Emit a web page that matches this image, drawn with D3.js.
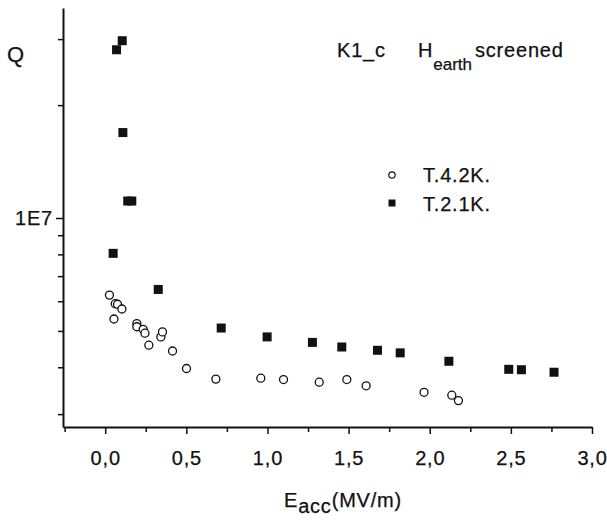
<!DOCTYPE html>
<html>
<head>
<meta charset="utf-8">
<script src="https://cdn.jsdelivr.net/npm/d3@7"></script>
<style>
  body { margin: 0; background: #fff; }
  svg text { font-family: "Liberation Sans", Arial, sans-serif; fill: #111; stroke: #111; stroke-width: 0.25px; }
  .axis path, .axis line { stroke: #111; }
</style>
</head>
<body>
<div id="chart"></div>
<script>
//////////////// DATA ////////////////

// T = 4.2 K (open circles)
var e42 = [0.026, 0.062, 0.076, 0.103, 0.054, 0.195, 0.195, 0.234, 0.245, 0.269, 0.343, 0.353, 0.415, 0.501, 0.682, 0.959, 1.099, 1.319, 1.489, 1.608, 1.965, 2.136, 2.177];
var q42 = [6.23e6, 5.91e6, 5.89e6, 5.72e6, 5.38e6, 5.23e6, 5.13e6, 5.05e6, 4.93e6, 4.58e6, 4.82e6, 4.97e6, 4.42e6, 3.97e6, 3.72e6, 3.74e6, 3.71e6, 3.65e6, 3.71e6, 3.57e6, 3.43e6, 3.37e6, 3.26e6];

// T = 2.1 K (filled squares)
var e21 = [0.070, 0.105, 0.109, 0.139, 0.164, 0.049, 0.327, 0.715, 0.998, 1.277, 1.458, 1.678, 1.818, 2.118, 2.487, 2.565, 2.766];
var q21 = [2.81e7, 2.97e7, 1.69e7, 1.11e7, 1.11e7, 8.05e6, 6.45e6, 5.09e6, 4.82e6, 4.66e6, 4.53e6, 4.44e6, 4.37e6, 4.15e6, 3.95e6, 3.94e6, 3.88e6];

var xMajorTicks = [0, 0.5, 1.0, 1.5, 2.0, 2.5, 3.0];
var xMinorTicks = [-0.25, 0.25, 0.75, 1.25, 1.75, 2.25, 2.75];
var yMajorTicks = [1e7];
var yMinorTicks = [3e6, 4e6, 5e6, 6e6, 7e6, 8e6, 9e6, 2e7, 3e7];
var legendLabels = ["T.4.2K.", "T.2.1K."];

//////////////// SETUP ////////////////

// plot box edges (note: "top" is reserved on window, so use plotTop)
var w = 607, h = 520,
    plotLeft = 63, plotRight = 592, plotTop = 8, plotBottom = 427,
    fontSize = "20px", spacing = "0.8px";

var svg = d3.select("#chart").append("svg")
    .attr("width", w)
    .attr("height", h);

var xScale = d3.scaleLinear()
    .domain([-0.26, 3.0])
    .range([plotLeft, plotRight]);

var yScale = d3.scaleLog()
    .domain([2.772e6, 3.631e7])
    .range([plotBottom, plotTop]);

//////////////// AXES ////////////////

// x minor ticks
svg.append("g")
    .attr("class", "axis")
    .attr("transform", "translate(0," + plotBottom + ")")
    .call(d3.axisBottom(xScale).tickValues(xMinorTicks).tickSize(5).tickFormat(""))
    .call(function(g) { g.select(".domain").remove(); })
    .selectAll("line").attr("stroke-width", 1.5);

// x major ticks
var xAx = svg.append("g")
    .attr("class", "axis")
    .attr("transform", "translate(0," + plotBottom + ")")
    .call(d3.axisBottom(xScale).tickValues(xMajorTicks).tickSize(7).tickSizeOuter(0)
        .tickFormat(function(d) { return d3.format(".1f")(d).replace(".", ","); }));
xAx.select(".domain").attr("stroke-width", 2);
xAx.selectAll("line").attr("stroke-width", 1.5);
xAx.selectAll("text")
    .attr("y", 24)
    .style("font-size", fontSize)
    .style("letter-spacing", spacing);

// y minor ticks
svg.append("g")
    .attr("class", "axis")
    .attr("transform", "translate(" + plotLeft + ",0)")
    .call(d3.axisLeft(yScale).tickValues(yMinorTicks).tickSize(5).tickFormat(""))
    .call(function(g) { g.select(".domain").remove(); })
    .selectAll("line").attr("stroke-width", 1.5);

// y major ticks
var yAx = svg.append("g")
    .attr("class", "axis")
    .attr("transform", "translate(" + plotLeft + ",0)")
    .call(d3.axisLeft(yScale).tickValues(yMajorTicks).tickSize(7).tickSizeOuter(0)
        .tickFormat(function() { return "1E7"; }));
yAx.select(".domain").attr("stroke-width", 2);
yAx.selectAll("line").attr("stroke-width", 1.5);
yAx.selectAll("text")
    .attr("x", -10)
    .style("font-size", fontSize)
    .style("letter-spacing", spacing);

// axis titles
svg.append("text")
    .attr("x", 7)
    .attr("y", 62)
    .style("font-size", "22px")
    .text("Q");

var xt = svg.append("text")
    .attr("x", 284)
    .attr("y", 507)
    .style("font-size", fontSize)
    .style("letter-spacing", spacing);
xt.append("tspan").text("E");
xt.append("tspan").attr("dy", 6).text("acc");
xt.append("tspan").attr("dy", -6).text("(MV/m)");

// annotation
svg.append("text")
    .attr("x", 337)
    .attr("y", 57)
    .style("font-size", fontSize)
    .style("letter-spacing", spacing)
    .text("K1_c");

var ann = svg.append("text")
    .attr("x", 418)
    .attr("y", 57)
    .style("font-size", fontSize)
    .style("letter-spacing", spacing);
ann.append("tspan").text("H");
ann.append("tspan").attr("dy", 13).style("font-size", "17px").style("letter-spacing", "0px").text("earth");
ann.append("tspan").attr("dy", -13).attr("dx", 3).text("screened");

//////////////// POINTS ////////////////

svg.selectAll("circle.t42")
    .data(e42)
    .enter()
    .append("circle")
    .attr("class", "t42")
    .attr("cx", function(d) { return xScale(d); })
    .attr("cy", function(d, i) { return yScale(q42[i]); })
    .attr("r", 4)
    .attr("fill", "white")
    .attr("stroke", "#111")
    .attr("stroke-width", 1.3);

var sq = 9;
svg.selectAll("rect.t21")
    .data(e21)
    .enter()
    .append("rect")
    .attr("class", "t21")
    .attr("x", function(d) { return xScale(d) - sq / 2; })
    .attr("y", function(d, i) { return yScale(q21[i]) - sq / 2; })
    .attr("width", sq)
    .attr("height", sq)
    .attr("fill", "#111");

//////////////// LEGEND ////////////////

svg.append("circle")
    .attr("cx", 392)
    .attr("cy", 175)
    .attr("r", 3.2)
    .attr("fill", "white")
    .attr("stroke", "#111")
    .attr("stroke-width", 1.2);

svg.append("rect")
    .attr("x", 388.5)
    .attr("y", 199.5)
    .attr("width", 7)
    .attr("height", 7)
    .attr("fill", "#111");

svg.selectAll("text.legend")
    .data(legendLabels)
    .enter()
    .append("text")
    .attr("class", "legend")
    .attr("x", 423)
    .attr("y", function(d, i) { return 182 + i * 29; })
    .style("font-size", fontSize)
    .style("letter-spacing", spacing)
    .text(function(d) { return d; });
</script>
</body>
</html>
